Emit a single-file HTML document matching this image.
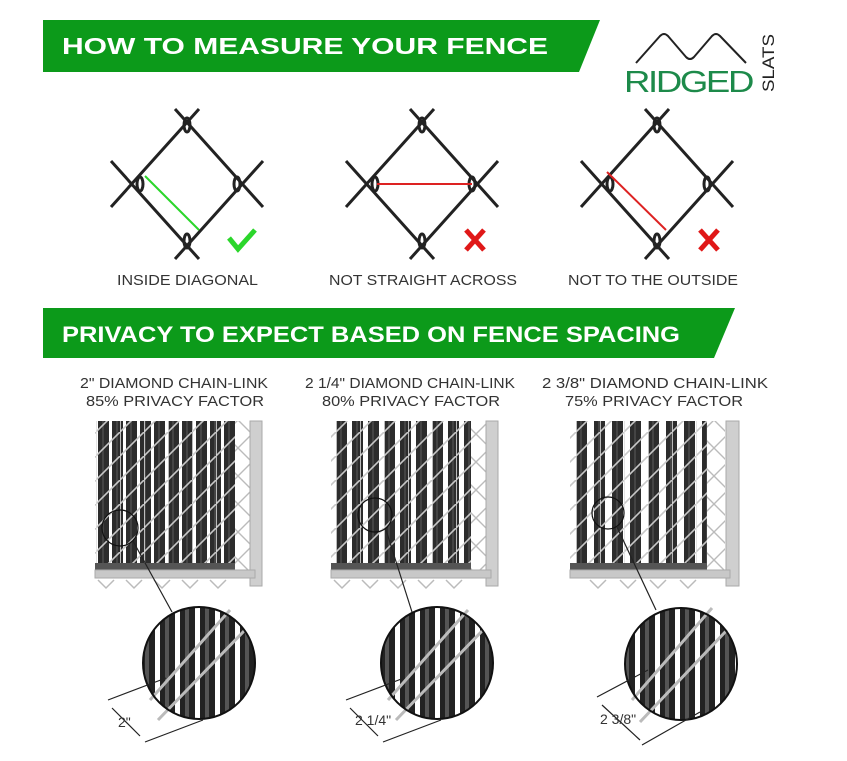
<!DOCTYPE html>
<html><head><meta charset="utf-8"><style>
html,body{margin:0;padding:0;background:#fff;}
body{width:847px;height:756px;overflow:hidden;font-family:"Liberation Sans",sans-serif;}
</style></head><body>
<svg width="847" height="756" viewBox="0 0 847 756" xmlns="http://www.w3.org/2000/svg" font-family="Liberation Sans, sans-serif">
<defs>
<pattern id="s1" width="14" height="10" patternUnits="userSpaceOnUse"><rect width="14" height="10" fill="#fff"/><rect x="0" width="11" height="10" fill="#2c2c2c"/><rect x="4" width="2" height="10" fill="#444"/></pattern>
<pattern id="s2" width="16" height="10" patternUnits="userSpaceOnUse"><rect width="16" height="10" fill="#fff"/><rect x="0" width="11" height="10" fill="#2c2c2c"/><rect x="4" width="2" height="10" fill="#444"/></pattern>
<pattern id="s3" width="18" height="10" patternUnits="userSpaceOnUse"><rect width="18" height="10" fill="#fff"/><rect x="0" width="11" height="10" fill="#2c2c2c"/><rect x="4" width="2" height="10" fill="#444"/></pattern>
<pattern id="w" width="24" height="24" patternUnits="userSpaceOnUse"><path d="M0 24 L24 0" stroke="#c8c8c8" stroke-width="1.6"/><path d="M0 0 L0 24" stroke="#ddd" stroke-width="1.6"/></pattern>
<pattern id="wc" width="28" height="28" patternUnits="userSpaceOnUse"><path d="M0 14 L14 0 L28 14 L14 28 Z" fill="none" stroke="#bbb" stroke-width="1.4"/></pattern>
<pattern id="b1" width="20" height="10" patternUnits="userSpaceOnUse"><rect width="20" height="10" fill="#fff"/><rect x="0" width="5" height="10" fill="#222"/><rect x="5" width="4" height="10" fill="#555"/><rect x="9" width="6" height="10" fill="#222"/></pattern>
</defs>

<polygon points="43,20 600,20 579,72 43,72" fill="#0c9a1a"/>
<text x="62" y="54" fill="#fff" font-size="23" font-weight="bold" textLength="486" lengthAdjust="spacingAndGlyphs">HOW TO MEASURE YOUR FENCE</text>

<path d="M636 63 L660 36 Q664 32 668 36 L686 57 Q690 61 694 57 L712 36 Q716 32 720 36 L746 63" fill="none" stroke="#222" stroke-width="2"/>
<text x="624" y="92" fill="#1d8a4a" font-size="31" letter-spacing="-2" textLength="128" lengthAdjust="spacingAndGlyphs">RIDGED</text>
<text x="0" y="0" fill="#222" font-size="17" transform="translate(774,92) rotate(-90)" textLength="58" lengthAdjust="spacingAndGlyphs">SLATS</text>

<g stroke="#222" stroke-width="3" fill="none">
<g id="d1">
<path d="M175 109 L263 207 M199 109 L111 207 M111 161 L199 259 M263 161 L175 259"/>
<ellipse cx="187" cy="125" rx="3" ry="7"/><ellipse cx="187" cy="241" rx="3" ry="7"/>
<ellipse cx="140" cy="184" rx="3" ry="7"/><ellipse cx="237" cy="184" rx="3" ry="7"/>
</g>
<use href="#d1" x="235"/>
<use href="#d1" x="470"/>
</g>
<line x1="145" y1="176" x2="199" y2="230" stroke="#2bd62b" stroke-width="2"/>
<line x1="377" y1="184" x2="472" y2="184" stroke="#d22" stroke-width="2"/>
<line x1="607" y1="172" x2="666" y2="230" stroke="#d22" stroke-width="2"/>
<path d="M229 238 L238 249 L255 230" fill="none" stroke="#2bd62b" stroke-width="5"/>
<path d="M466 230 L484 250 M484 230 L466 250" stroke="#e01818" stroke-width="5"/>
<path d="M700 230 L718 250 M718 230 L700 250" stroke="#e01818" stroke-width="5"/>
<g fill="#333" font-size="15">
<text x="117" y="285" textLength="141" lengthAdjust="spacingAndGlyphs">INSIDE DIAGONAL</text>
<text x="329" y="285" textLength="188" lengthAdjust="spacingAndGlyphs">NOT STRAIGHT ACROSS</text>
<text x="568" y="285" textLength="170" lengthAdjust="spacingAndGlyphs">NOT TO THE OUTSIDE</text>
</g>

<polygon points="43,308 735,308 714,358 43,358" fill="#0c9a1a"/>
<text x="62" y="342" fill="#fff" font-size="22" font-weight="bold" textLength="618" lengthAdjust="spacingAndGlyphs">PRIVACY TO EXPECT BASED ON FENCE SPACING</text>

<g fill="#333" font-size="15">
<text x="80" y="388" textLength="188" lengthAdjust="spacingAndGlyphs">2" DIAMOND CHAIN-LINK</text><text x="86" y="406" textLength="178" lengthAdjust="spacingAndGlyphs">85% PRIVACY FACTOR</text>
<text x="305" y="388" textLength="210" lengthAdjust="spacingAndGlyphs">2 1/4" DIAMOND CHAIN-LINK</text><text x="322" y="406" textLength="178" lengthAdjust="spacingAndGlyphs">80% PRIVACY FACTOR</text>
<text x="542" y="388" textLength="226" lengthAdjust="spacingAndGlyphs">2 3/8" DIAMOND CHAIN-LINK</text><text x="565" y="406" textLength="178" lengthAdjust="spacingAndGlyphs">75% PRIVACY FACTOR</text>
</g>

<g>
<rect x="95" y="421" width="140" height="153" fill="url(#s1)"/>
<rect x="95" y="421" width="140" height="153" fill="url(#w)"/>
<rect x="235" y="421" width="18" height="153" fill="url(#wc)"/>
<rect x="250" y="421" width="12" height="165" fill="#cfcfcf" stroke="#aaa"/>
<rect x="95" y="563" width="140" height="7" fill="#555"/>
<rect x="95" y="570" width="160" height="8" fill="#c8c8c8" stroke="#aaa"/>
<path d="M98 580 l8 8 l8 -8 M126 580 l8 8 l8 -8 M154 580 l8 8 l8 -8 M182 580 l8 8 l8 -8 M210 580 l8 8 l8 -8" stroke="#bbb" fill="none" stroke-width="1.5"/>
<circle cx="120" cy="528" r="18" fill="none" stroke="#111" stroke-width="1.2"/>
<line x1="133" y1="541" x2="172" y2="612" stroke="#222" stroke-width="1.2"/>
<circle cx="199" cy="663" r="56" fill="url(#b1)"/>
<path d="M150 700 L230 610 M158 720 L245 630" stroke="#bbb" stroke-width="3"/>
<circle cx="199" cy="663" r="56" fill="none" stroke="#111" stroke-width="2"/>
<path d="M108 700 L166 678 M145 742 L203 720 M112 708 L140 736" stroke="#222" stroke-width="1.2"/>
<text x="118" y="727" font-size="14" fill="#333">2"</text>
</g>

<g>
<rect x="331" y="421" width="140" height="153" fill="url(#s2)"/>
<rect x="331" y="421" width="140" height="153" fill="url(#w)"/>
<rect x="471" y="421" width="18" height="153" fill="url(#wc)"/>
<rect x="486" y="421" width="12" height="165" fill="#cfcfcf" stroke="#aaa"/>
<rect x="331" y="563" width="140" height="7" fill="#555"/>
<rect x="331" y="570" width="160" height="8" fill="#c8c8c8" stroke="#aaa"/>
<path d="M334 580 l8 8 l8 -8 M362 580 l8 8 l8 -8 M390 580 l8 8 l8 -8 M418 580 l8 8 l8 -8 M446 580 l8 8 l8 -8" stroke="#bbb" fill="none" stroke-width="1.5"/>
<circle cx="375" cy="515" r="17" fill="none" stroke="#111" stroke-width="1.2"/>
<line x1="386" y1="530" x2="412" y2="612" stroke="#222" stroke-width="1.2"/>
<circle cx="437" cy="663" r="56" fill="url(#b1)"/>
<path d="M388 700 L468 610 M396 720 L483 630" stroke="#bbb" stroke-width="3"/>
<circle cx="437" cy="663" r="56" fill="none" stroke="#111" stroke-width="2"/>
<path d="M346 700 L404 678 M383 742 L441 720 M350 708 L378 736" stroke="#222" stroke-width="1.2"/>
<text x="355" y="725" font-size="14" fill="#333">2 1/4"</text>
</g>

<g>
<rect x="570" y="421" width="137" height="153" fill="url(#s3)"/>
<rect x="570" y="421" width="137" height="153" fill="url(#w)"/>
<rect x="707" y="421" width="18" height="153" fill="url(#wc)"/>
<rect x="726" y="421" width="13" height="165" fill="#cfcfcf" stroke="#aaa"/>
<rect x="570" y="563" width="137" height="7" fill="#555"/>
<rect x="570" y="570" width="160" height="8" fill="#c8c8c8" stroke="#aaa"/>
<path d="M590 580 l8 8 l8 -8 M620 580 l8 8 l8 -8 M650 580 l8 8 l8 -8 M680 580 l8 8 l8 -8" stroke="#bbb" fill="none" stroke-width="1.5"/>
<circle cx="608" cy="513" r="16" fill="none" stroke="#111" stroke-width="1.2"/>
<line x1="617" y1="527" x2="656" y2="610" stroke="#222" stroke-width="1.2"/>
<circle cx="681" cy="664" r="56" fill="url(#b1)"/>
<path d="M632 700 L712 608 M640 722 L727 630" stroke="#bbb" stroke-width="3"/>
<circle cx="681" cy="664" r="56" fill="none" stroke="#111" stroke-width="2"/>
<path d="M597 697 L648 670 M642 745 L700 712 M602 705 L640 740" stroke="#222" stroke-width="1.2"/>
<text x="600" y="724" font-size="14" fill="#333">2 3/8"</text>
</g>
</svg>
</body></html>
